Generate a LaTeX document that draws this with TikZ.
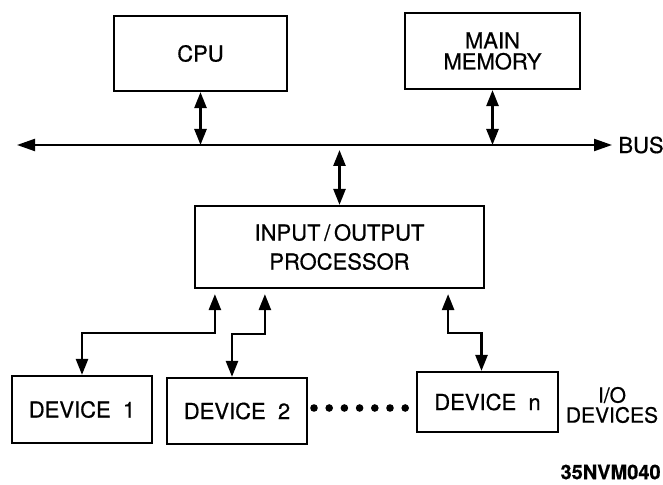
\documentclass[tikz,border=0pt]{standalone}
\usepackage{fontspec}
\setmainfont{TeX Gyre Heros}[FakeBold=0.6]
\usetikzlibrary{positioning, arrows.meta}

\begin{document}
\begin{tikzpicture}[x=0.5pt, y=-0.5pt,
        unit/.style={rectangle, draw, line width=1.1pt, align=center, inner sep=0pt, font=\fontsize{11}{10.5}\selectfont},
        link/.style={<->, line width=1.3pt},
        lbl/.style={inner sep=0pt, align=center, font=\fontsize{11}{10}\selectfont},
        >={Triangle[length=8pt, width=6pt]}]
        \useasboundingbox (0,0) rectangle (663,485);
        % upper units and the bus
        \node[unit, minimum width=86.5pt, minimum height=37.5pt] (CPU) at (200.5,53.5) {CPU};
        \node[unit, minimum width=87.5pt, minimum height=38pt] (MEM) at (492.5,51) {MAIN\\MEMORY};
        \coordinate (busL) at (17,145);
        \coordinate (busR) at (612,145);
        \draw[<->, line width=1.1pt, >={Triangle[length=9pt, width=6pt]}] (busL) -- (busR);
        \node[lbl, right=3pt of busR] (BUS) {BUS};
        \draw[link] (CPU.south) -- (CPU.south |- busL);
        \draw[link] (MEM.south) -- (MEM.south |- busL);
        % I/O processor
        \node[unit, minimum width=144.5pt, minimum height=41pt, font=\fontsize{11}{14.5}\selectfont] (IOP) at (339.5,247) {INPUT\,/\,OUTPUT\\PROCESSOR};
        \coordinate (tap) at ([yshift=-2.5pt]IOP.north |- busL);
        \draw[link] (tap) -- (IOP.north);
        % devices
        \node[unit, minimum width=70pt, minimum height=33.5pt] (D1) at (82,409.5) {DEVICE\ \ 1};
        \node[unit, minimum width=70pt, minimum height=33pt] (D2) at (237,411) {DEVICE\ \ 2};
        \node[unit, minimum width=70.5pt, minimum height=30pt] (Dn) at (487.5,402) {DEVICE\ \ n};
        \foreach \i in {0,...,6}
                \fill (314+\i*15.2,408) circle[radius=1.9pt];
        \draw[link] ([shift={(21,5)}]IOP.south west) -- ++(0,39) -| (D1.north);
        \draw[link] ([shift={(71,5)}]IOP.south west) -- ++(0,40) -| ([xshift=-2.5pt]D2.north);
        \draw[link] ([shift={(-37,5)}]IOP.south east) -- ++(0,39) -| ([xshift=-3pt]Dn.north);
        \node[lbl, font=\fontsize{10.5}{10}\selectfont] (IOD) at (612,405) {I/O\\DEVICES};
        \node[inner sep=0pt, anchor=east, font=\bfseries\fontsize{10}{10}\selectfont] (ref) at (661,472) {35NVM040};
\end{tikzpicture}
\end{document}
